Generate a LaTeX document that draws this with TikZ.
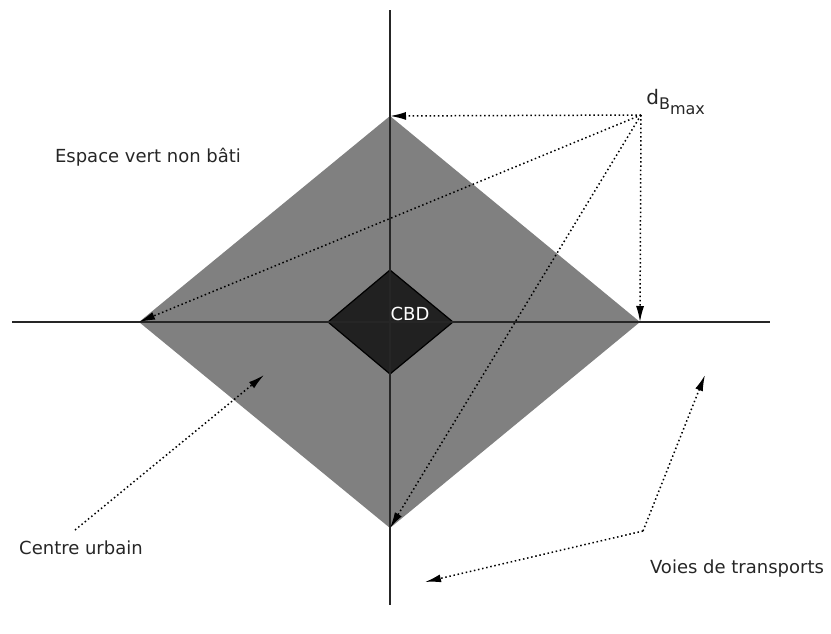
\documentclass[tikz,border=0pt]{standalone}
\usepackage{fontspec}
\setmainfont{DejaVu Sans}
\usetikzlibrary{arrows.meta}

\begin{document}
\begin{tikzpicture}[x=0.5pt, y=-0.5pt, >={Latex[length=8pt,width=4pt]},
    axis/.style={line width=0.9pt, black!85},
    pointer/.style={->, line width=0.75pt, dash pattern=on 0.75pt off 1.35pt},
    lbl/.style={font=\fontsize{9}{11}\selectfont, text=black!85, inner sep=0pt}]
    \useasboundingbox (0,0) rectangle (831,633);
    % urban area and CBD
    \coordinate (N) at (390,116);
    \coordinate (W) at (139,322);
    \coordinate (E) at (640,322);
    \coordinate (S) at (390,528);
    \fill[gray] (N) -- (E) -- (S) -- (W) -- cycle;
    \filldraw[fill=black!87, draw=black, line width=0.6pt]
        (390,270) -- (453,322) -- (390,374) -- (328,322) -- cycle;
    % transport axes
    \draw[axis] (390,10) -- (390,605);
    \draw[axis] (12,322) -- (770,322);
    \node[lbl, text=white] (cbd) at (410,314) {CBD};
    % max distance
    \coordinate (src) at (641,115);
    \node[lbl, anchor=west, font=\fontsize{10}{12}\selectfont] (dmax) at (646,102)
        {d\raisebox{-0.5ex}{\fontsize{8}{9}\selectfont B\raisebox{-0.55ex}{max}}};
    \draw[pointer] (src) -- (N);
    \draw[pointer] (src) -- (W);
    \draw[pointer] (src) -- (S);
    \draw[pointer] (src) -- (E);
    % labels
    \node[lbl] (green) at (148,157) {Espace vert non bâti};
    \node[lbl] (centre) at (81,548) {Centre urbain};
    \coordinate (tail) at (75,530);
    \coordinate (core) at (264,375);
    \draw[pointer] (tail) -- (core);
    \node[lbl] (roads) at (737,569) {Voies de transports};
    \coordinate (bend) at (643,531);
    \coordinate (roadE) at (705,375);
    \coordinate (roadS) at (425,582);
    \draw[pointer] (bend) -- (roadE);
    \draw[pointer] (bend) -- (roadS);
\end{tikzpicture}
\end{document}
